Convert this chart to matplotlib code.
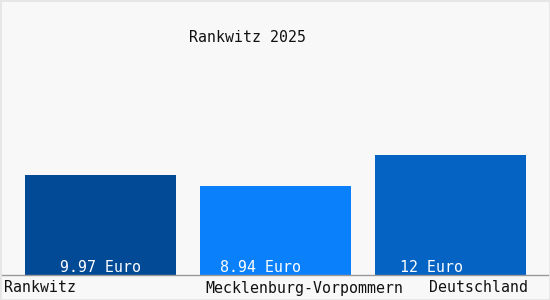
import matplotlib.pyplot as plt
from matplotlib.patches import Rectangle

# data
regions = ["Rankwitz", "Mecklenburg-Vorpommern", "Deutschland"]
values = [9.97, 8.94, 12]
value_labels = ["9.97 Euro", "8.94 Euro", "12 Euro"]
colors = ["#034a96", "#0a80fa", "#0563c4"]
title = "Rankwitz 2025"

W, H = 550, 300
fig = plt.figure(figsize=(W / 100, H / 100), dpi=100)
fig.patch.set_facecolor("#f8f8f8")

# axes span the full width, bottom 25 px reserved for category labels
ax = fig.add_axes([0, 25 / H, 1, 275 / H])
ax.set_facecolor("#f8f8f8")
step = 175.0
ax.set_xlim(-100.5 / step, (W - 100.5) / step)
ax.set_ylim(0, 27.5)
ax.bar(range(len(values)), values, width=151 / step, color=colors)

for s in ["top", "right", "left"]:
    ax.spines[s].set_visible(False)
ax.spines["bottom"].set_color("#999999")
ax.spines["bottom"].set_linewidth(1)
ax.set_xticks([])
ax.set_yticks([])

mono = "DejaVu Sans Mono"
fs = 10.7
# value labels inside bars (left offsets in px from bar start)
label_offsets = [35, 20, 25]
for i, (lab, off) in enumerate(zip(value_labels, label_offsets)):
    ax.text(i - 75.5 / step + off / step, 0.7, lab, color="white",
            family=mono, fontsize=fs, ha="left", va="center")

# category labels
cat_x = [4, 205, 429]
for x, name in zip(cat_x, regions):
    fig.text(x / W, 1 - 288 / H, name, family=mono, fontsize=fs,
             ha="left", va="center", color="#111111")

fig.text(189 / W, 1 - 38 / H, title, family=mono, fontsize=fs,
         ha="left", va="center", color="#111111")

fig.add_artist(Rectangle((0, 0), 1, 1, transform=fig.transFigure,
                         fill=False, edgecolor="#e6e6e6", linewidth=2))

fig.savefig("out.png", dpi=100, facecolor=fig.get_facecolor())
